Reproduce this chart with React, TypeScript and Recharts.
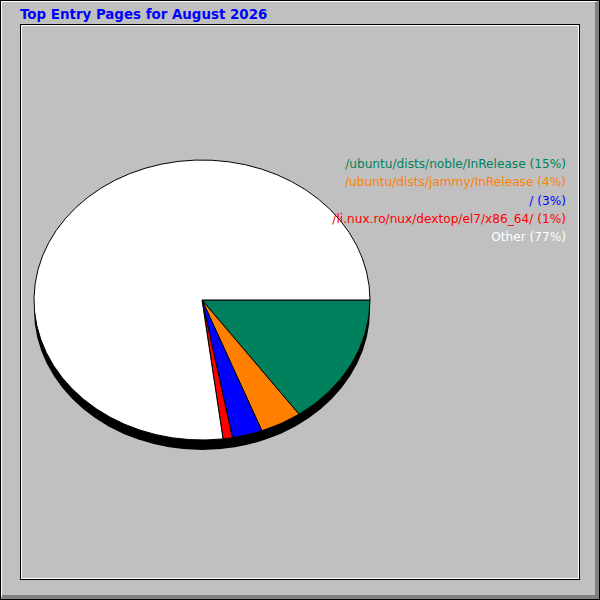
import React from 'react'
import { PieChart, Pie, Cell } from 'recharts'

// Top entry pages, August 2026 (share of entries, %)
const pages = [
  '/ubuntu/dists/noble/InRelease',
  '/ubuntu/dists/jammy/InRelease',
  '/',
  '/li.nux.ro/nux/dextop/el7/x86_64/',
  'Other',
]
const shares = [15.2, 4.0, 2.9, 0.9, 77.0]
const labels = ['15%', '4%', '3%', '1%', '77%']
const colors = ['#00805c', '#ff8000', '#0000ff', '#ff0000', '#ffffff']

const data = pages.map((name, i) => ({ name, value: shares[i] }))
const shadow = [{ name: 'shadow', value: 1 }]

const SQUASH = 140 / 168

// elliptical sector, angles supplied by recharts
const EllipseSector = (props: any) => {
  const { cx, cy, outerRadius, startAngle, endAngle, fill, stroke } = props
  const rx = outerRadius
  const ry = outerRadius * SQUASH
  const rad = Math.PI / 180
  const span = Math.abs(endAngle - startAngle)
  if (span >= 359.99) {
    return <ellipse cx={cx} cy={cy} rx={rx} ry={ry} fill={fill} stroke={stroke} />
  }
  const x1 = cx + rx * Math.cos(startAngle * rad)
  const y1 = cy - ry * Math.sin(startAngle * rad)
  const x2 = cx + rx * Math.cos(endAngle * rad)
  const y2 = cy - ry * Math.sin(endAngle * rad)
  const large = span > 180 ? 1 : 0
  const sweep = endAngle < startAngle ? 1 : 0
  const d = `M${cx},${cy} L${x1},${y1} A${rx},${ry} 0 ${large} ${sweep} ${x2},${y2} Z`
  return <path d={d} fill={fill} stroke={stroke} strokeWidth={1} />
}

export default function App() {
  return (
    <div
      style={{
        position: 'absolute',
        left: 0,
        top: 0,
        width: 600,
        height: 600,
        background: '#c0c0c0',
        fontFamily: '"DejaVu Sans", sans-serif',
        overflow: 'hidden',
      }}
    >
      {/* outer bevel */}
      <div style={{ position: 'absolute', inset: 0, border: '1px solid #000', boxSizing: 'border-box' }} />
      <div style={{ position: 'absolute', left: 1, top: 1, right: 1, bottom: 1, borderTop: '1px solid #fff', borderLeft: '1px solid #fff', borderRight: '4px solid #808080', borderBottom: '4px solid #808080' }} />
      {/* inner box */}
      <div style={{ position: 'absolute', left: 20, top: 24, width: 560, height: 556, border: '1px solid #000', boxSizing: 'border-box' }} />
      <div style={{ position: 'absolute', left: 21, top: 25, width: 558, height: 554, border: '1px solid #fff', boxSizing: 'border-box' }} />

      <div style={{ position: 'absolute', left: 20, top: 7, fontSize: 13.4, fontWeight: 'bold', color: '#0000ff', whiteSpace: 'nowrap' }}>
        Top Entry Pages for August 2026
      </div>

      <div style={{ position: 'absolute', left: 0, top: 0 }}>
        <PieChart width={600} height={600} margin={{ top: 0, right: 0, bottom: 0, left: 0 }}>
          <Pie
            data={shadow}
            dataKey="value"
            cx={202}
            cy={310}
            outerRadius={168}
            startAngle={0}
            endAngle={-360}
            stroke="none"
            fill="#000"
            shape={EllipseSector}
            isAnimationActive={false}
          />
          <Pie
            data={data}
            dataKey="value"
            nameKey="name"
            cx={202}
            cy={300}
            outerRadius={168}
            startAngle={0}
            endAngle={-360}
            stroke="#000"
            shape={EllipseSector}
            isAnimationActive={false}
          >
            {data.map((d, i) => (
              <Cell key={d.name} fill={colors[i]} stroke="#000" />
            ))}
          </Pie>
        </PieChart>
      </div>

      <div style={{ position: 'absolute', right: 34, top: 155, textAlign: 'right', fontSize: 12.15, lineHeight: '18.3px' }}>
        {pages.map((p, i) => (
          <div key={p} style={{ color: colors[i], whiteSpace: 'nowrap' }}>
            {p} ({labels[i]})
          </div>
        ))}
      </div>
    </div>
  )
}
